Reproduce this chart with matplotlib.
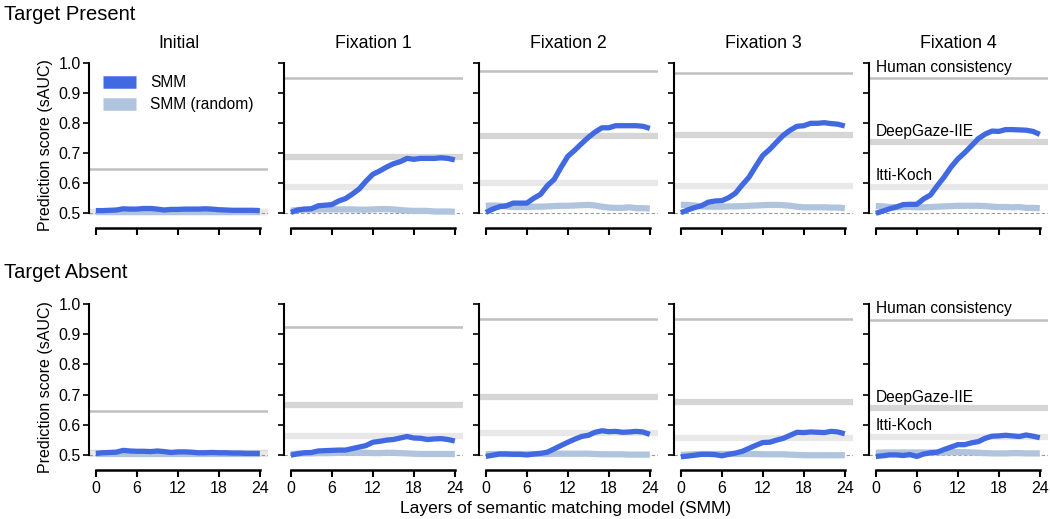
import numpy as np

import matplotlib
matplotlib.use("Agg")

import matplotlib.pyplot as plt


plt.rcParams["font.family"] = ["Liberation Sans", "DejaVu Sans"]

layers = np.arange(25)

panel_titles = ["Initial", "Fixation 1", "Fixation 2", "Fixation 3", "Fixation 4"]
row_titles = ["Target Present", "Target Absent"]
baseline_names = ["Human consistency", "DeepGaze-IIE", "Itti-Koch"]

# reference scores per panel: human consistency, DeepGaze-IIE, Itti-Koch
present_human = [0.647, 0.950, 0.974, 0.967, 0.949]
present_deepgaze = [0.505, 0.688, 0.756, 0.759, 0.736]
present_itti = [0.503, 0.586, 0.599, 0.591, 0.587]

absent_human = [0.647, 0.925, 0.951, 0.951, 0.947]
absent_deepgaze = [0.505, 0.667, 0.693, 0.676, 0.655]
absent_itti = [0.503, 0.564, 0.571, 0.557, 0.559]

# SMM, target present
present_smm = [
    [0.508, 0.508, 0.509, 0.510, 0.514, 0.513, 0.513, 0.515, 0.515, 0.513,
     0.510, 0.512, 0.512, 0.513, 0.513, 0.513, 0.514, 0.513, 0.511, 0.510,
     0.509, 0.509, 0.509, 0.509, 0.508],
    [0.502, 0.510, 0.513, 0.514, 0.524, 0.526, 0.528, 0.540, 0.548, 0.563,
     0.580, 0.606, 0.629, 0.640, 0.653, 0.664, 0.671, 0.682, 0.679, 0.682,
     0.682, 0.682, 0.684, 0.682, 0.677],
    [0.502, 0.513, 0.521, 0.524, 0.533, 0.533, 0.533, 0.549, 0.562, 0.591,
     0.612, 0.652, 0.689, 0.709, 0.731, 0.752, 0.770, 0.784, 0.784, 0.791,
     0.791, 0.791, 0.791, 0.789, 0.782],
    [0.501, 0.510, 0.518, 0.524, 0.536, 0.540, 0.541, 0.551, 0.566, 0.594,
     0.620, 0.657, 0.692, 0.712, 0.736, 0.759, 0.776, 0.789, 0.791, 0.799,
     0.799, 0.801, 0.798, 0.796, 0.790],
    [0.499, 0.506, 0.514, 0.520, 0.528, 0.529, 0.529, 0.547, 0.560, 0.591,
     0.620, 0.653, 0.680, 0.701, 0.724, 0.748, 0.763, 0.773, 0.772, 0.778,
     0.778, 0.777, 0.776, 0.772, 0.762],
]

present_random = [
    [0.503, 0.503, 0.503, 0.503, 0.503, 0.503, 0.503, 0.503, 0.503, 0.503,
     0.503, 0.503, 0.503, 0.503, 0.503, 0.503, 0.503, 0.503, 0.503, 0.503,
     0.503, 0.503, 0.503, 0.503, 0.503],
    [0.508, 0.510, 0.511, 0.511, 0.512, 0.512, 0.512, 0.512, 0.512, 0.512,
     0.511, 0.511, 0.512, 0.513, 0.513, 0.512, 0.510, 0.508, 0.507, 0.507,
     0.507, 0.505, 0.505, 0.505, 0.504],
    [0.524, 0.525, 0.524, 0.522, 0.520, 0.520, 0.520, 0.521, 0.521, 0.522,
     0.523, 0.524, 0.524, 0.525, 0.526, 0.527, 0.525, 0.521, 0.518, 0.517,
     0.517, 0.519, 0.516, 0.516, 0.515],
    [0.527, 0.527, 0.525, 0.522, 0.521, 0.521, 0.521, 0.522, 0.522, 0.523,
     0.524, 0.525, 0.526, 0.527, 0.527, 0.526, 0.524, 0.521, 0.519, 0.519,
     0.519, 0.519, 0.518, 0.518, 0.516],
    [0.523, 0.522, 0.520, 0.519, 0.520, 0.520, 0.519, 0.519, 0.520, 0.521,
     0.522, 0.523, 0.524, 0.524, 0.524, 0.524, 0.523, 0.521, 0.520, 0.520,
     0.519, 0.520, 0.517, 0.517, 0.516],
]

# SMM, target absent
absent_smm = [
    [0.505, 0.507, 0.508, 0.509, 0.515, 0.513, 0.512, 0.512, 0.511, 0.513,
     0.511, 0.508, 0.510, 0.510, 0.509, 0.507, 0.507, 0.508, 0.507, 0.507,
     0.506, 0.506, 0.505, 0.505, 0.505],
    [0.499, 0.504, 0.507, 0.508, 0.513, 0.514, 0.515, 0.516, 0.516, 0.521,
     0.526, 0.531, 0.542, 0.545, 0.549, 0.551, 0.556, 0.561, 0.556, 0.555,
     0.551, 0.553, 0.554, 0.551, 0.546],
    [0.495, 0.499, 0.503, 0.503, 0.502, 0.502, 0.500, 0.503, 0.505, 0.509,
     0.520, 0.531, 0.542, 0.552, 0.561, 0.565, 0.575, 0.580, 0.577, 0.578,
     0.575, 0.576, 0.578, 0.576, 0.568],
    [0.494, 0.496, 0.499, 0.502, 0.502, 0.501, 0.497, 0.502, 0.506, 0.512,
     0.522, 0.532, 0.541, 0.542, 0.549, 0.555, 0.565, 0.575, 0.574, 0.576,
     0.575, 0.574, 0.578, 0.576, 0.570],
    [0.495, 0.497, 0.500, 0.500, 0.498, 0.501, 0.495, 0.503, 0.507, 0.509,
     0.518, 0.526, 0.534, 0.534, 0.540, 0.544, 0.555, 0.562, 0.563, 0.565,
     0.563, 0.561, 0.566, 0.562, 0.557],
]

absent_random = [
    [0.503, 0.503, 0.503, 0.503, 0.503, 0.503, 0.503, 0.503, 0.503, 0.503,
     0.503, 0.503, 0.503, 0.503, 0.503, 0.503, 0.503, 0.503, 0.503, 0.503,
     0.503, 0.503, 0.503, 0.503, 0.503],
    [0.503, 0.504, 0.505, 0.505, 0.506, 0.506, 0.506, 0.507, 0.507, 0.507,
     0.507, 0.507, 0.506, 0.506, 0.507, 0.507, 0.506, 0.505, 0.504, 0.503,
     0.503, 0.503, 0.503, 0.503, 0.503],
    [0.502, 0.503, 0.503, 0.503, 0.503, 0.503, 0.503, 0.503, 0.503, 0.503,
     0.504, 0.504, 0.504, 0.504, 0.504, 0.504, 0.503, 0.502, 0.502, 0.502,
     0.502, 0.501, 0.501, 0.501, 0.501],
    [0.500, 0.501, 0.502, 0.503, 0.503, 0.503, 0.503, 0.503, 0.503, 0.503,
     0.503, 0.503, 0.502, 0.502, 0.502, 0.502, 0.501, 0.500, 0.499, 0.499,
     0.499, 0.499, 0.499, 0.499, 0.499],
    [0.507, 0.508, 0.508, 0.508, 0.508, 0.508, 0.508, 0.508, 0.508, 0.508,
     0.508, 0.509, 0.509, 0.509, 0.508, 0.507, 0.506, 0.505, 0.505, 0.505,
     0.506, 0.506, 0.505, 0.505, 0.505],
]

rows = [
    (present_smm, present_random, present_human, present_deepgaze, present_itti),
    (absent_smm, absent_random, absent_human, absent_deepgaze, absent_itti),
]

SMM_COLOR = "#4169e1"
RANDOM_COLOR = "#b0c4de"
HUMAN_COLOR = "#c0c0c0"
DEEPGAZE_COLOR = "#d6d6d6"
ITTI_COLOR = "#e8e8e8"

W, H = 1050, 519
fig = plt.figure(figsize=(W / 100, H / 100), dpi=100)

col_left = [89, 284, 479, 674, 869]
col_width = 179
row_top = [63, 304]
row_bottom = [228, 470]

for r, (smm, rnd, human, deepgaze, itti) in enumerate(rows):
    for c in range(5):
        ax = fig.add_axes([
            col_left[c] / W,
            (H - row_bottom[r]) / H,
            col_width / W,
            (row_bottom[r] - row_top[r]) / H,
        ])

        ax.axhline(human[c], color=HUMAN_COLOR, lw=1.8, zorder=1)
        ax.axhline(deepgaze[c], color=DEEPGAZE_COLOR, lw=4.5, zorder=1)
        ax.axhline(itti[c], color=ITTI_COLOR, lw=4.5, zorder=1)
        ax.axhline(0.5, color="#999999", lw=0.8, ls=(0, (3, 2)), zorder=1)

        ax.plot(layers, rnd[c], color=RANDOM_COLOR, lw=4.5,
                solid_capstyle="butt", label="SMM (random)", zorder=2)
        ax.plot(layers, smm[c], color=SMM_COLOR, lw=3.8,
                solid_capstyle="butt", label="SMM", zorder=3)

        ax.set_xlim(-1.0, 25.2)
        ax.set_ylim(0.45, 1.0)

        ax.spines["top"].set_visible(False)
        ax.spines["right"].set_visible(False)
        ax.spines["left"].set_bounds(0.5, 1.0)
        ax.spines["bottom"].set_bounds(0, 24)
        ax.spines["left"].set_linewidth(1.5)
        ax.spines["bottom"].set_linewidth(1.8)

        ax.set_xticks([0, 6, 12, 18, 24])
        ax.set_yticks([0.5, 0.6, 0.7, 0.8, 0.9, 1.0])
        ax.tick_params(axis="y", length=4, width=1.2, labelsize=11.5, pad=2)
        ax.tick_params(axis="x", length=5, width=1.5, labelsize=11.5, pad=3)

        if c > 0:
            ax.set_yticklabels([])
        else:
            ax.set_ylabel("Prediction score (sAUC)", fontsize=11.5, labelpad=4)
        if r == 0:
            ax.set_xticklabels([])
            ax.set_title(panel_titles[c], fontsize=12.8, pad=11)

        if c == 4:
            for name, val in zip(baseline_names, [human[c], deepgaze[c], itti[c]]):
                ax.text(0, val + 0.012, name, fontsize=11.2, ha="left", va="bottom")

        if r == 0 and c == 0:
            handles, labels = ax.get_legend_handles_labels()
            leg = ax.legend(handles[::-1], labels[::-1], loc="upper left",
                            frameon=False, fontsize=11.2, handlelength=2.1,
                            handletextpad=0.9, borderaxespad=0.4,
                            bbox_to_anchor=(0.01, 1.0), labelspacing=0.45)
            for line in leg.get_lines():
                line.set_linewidth(9)
                line.set_solid_capstyle("butt")

for r in range(2):
    fig.text(4 / W, 1 - [15, 272][r] / H, row_titles[r], fontsize=14.5,
             ha="left", va="center")

fig.text(566 / W, 1 - 508 / H, "Layers of semantic matching model (SMM)",
         fontsize=12.5, ha="center", va="center")

fig.savefig("out.png", dpi=100)
